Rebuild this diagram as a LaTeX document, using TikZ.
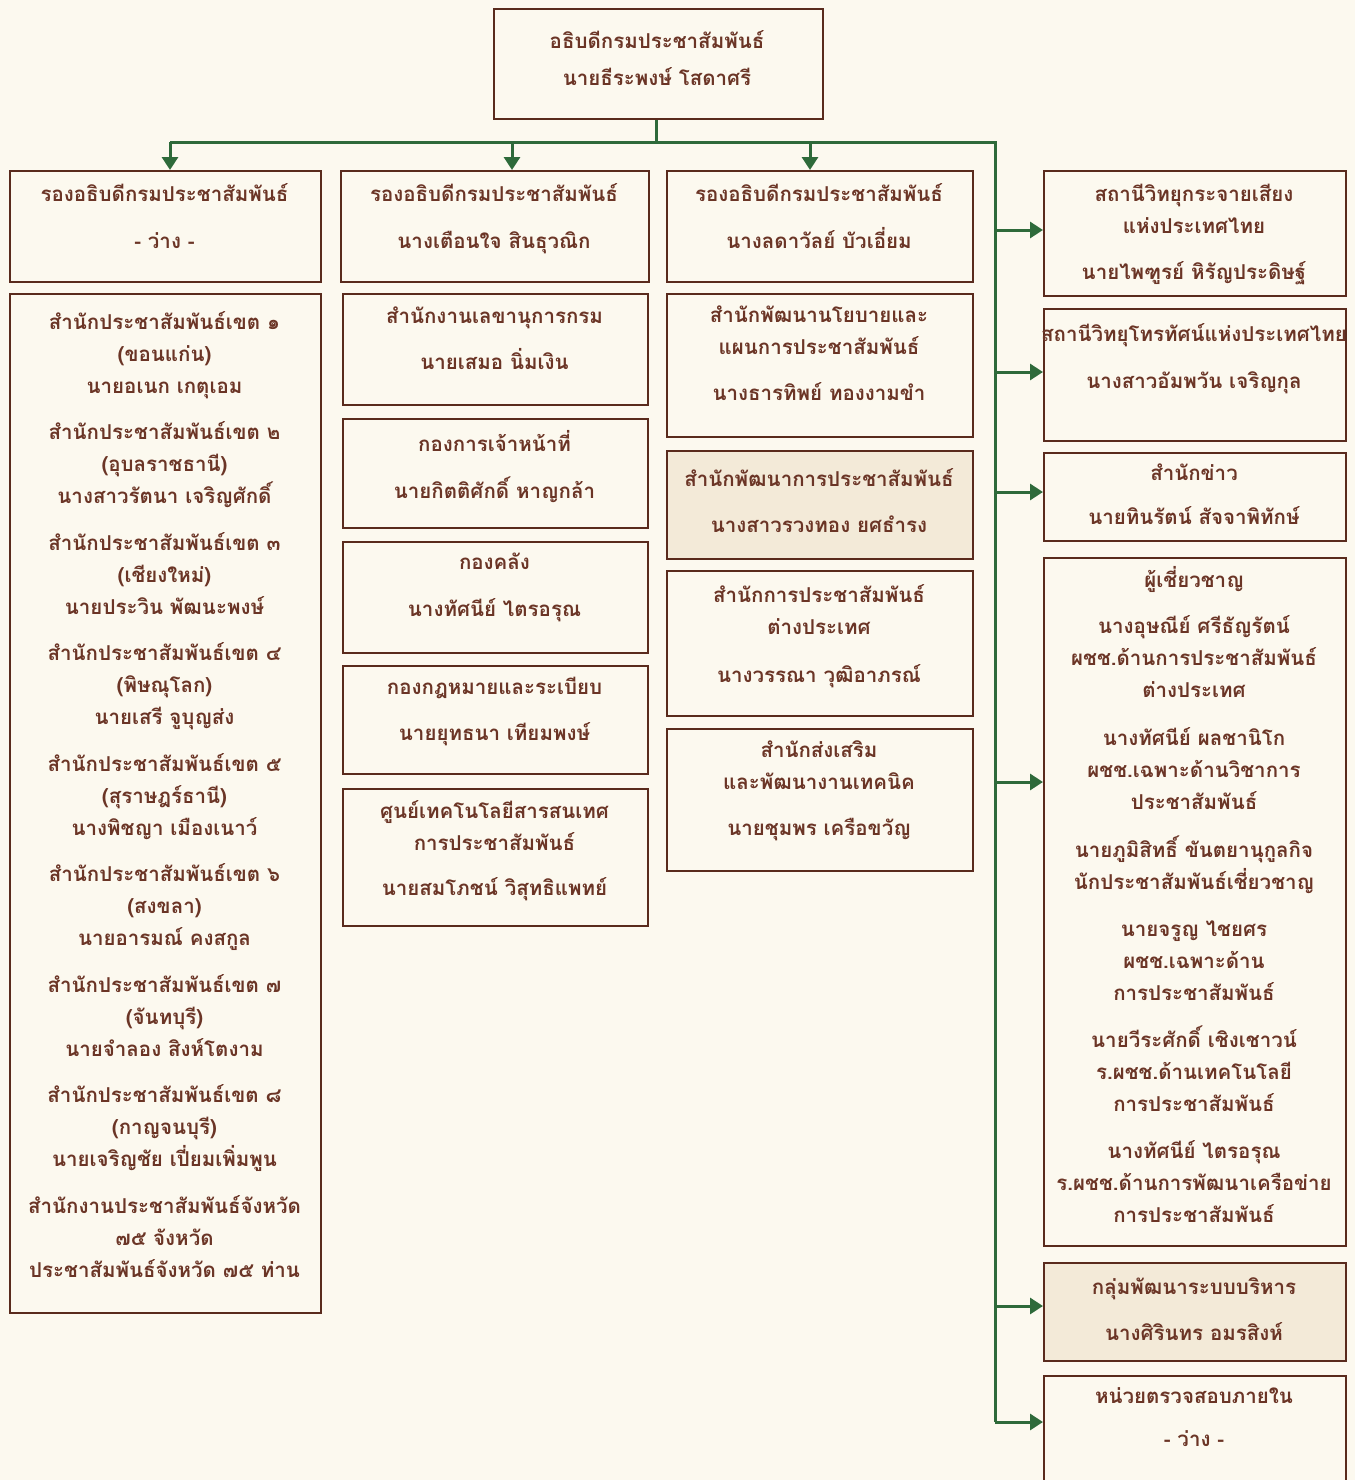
\documentclass[tikz,border=0pt]{standalone}
\usepackage{fontspec}
\newfontfamily\thaifont[Script=Thai]{Loma}
\usetikzlibrary{arrows.meta}
\definecolor{bg}{HTML}{FCF9EF}
\definecolor{brd}{HTML}{5A2B1D}
\definecolor{txtc}{HTML}{6B3526}
\definecolor{grn}{HTML}{2E6A3A}
\definecolor{hl}{HTML}{F3EAD8}
\tikzset{
  bx/.style={draw=brd, line width=2.2pt, rectangle, inner sep=0pt, anchor=north west, fill=bg},
  tx/.style={anchor=north, inner sep=0pt, align=center, text=txtc,
     font=\thaifont\bfseries\fontsize{20.5}{32}\selectfont, execute at begin node=\strut},
  conn/.style={draw=grn, line width=3pt},
  arr/.style={conn, -{Triangle[length=13pt,width=16pt]}},
}
\begin{document}
\begin{tikzpicture}[x=1pt,y=-1pt]
\clip (0,0) rectangle (1355,1480);
\fill[bg] (0,0) rectangle (1355,1480);

% boxes
\node[bx, minimum width=329pt, minimum height=110pt] (T) at (493,8) {};
\node[bx, minimum width=311pt, minimum height=111pt] (A) at (9,170) {};
\node[bx, minimum width=308pt, minimum height=111pt] (B) at (340,170) {};
\node[bx, minimum width=306pt, minimum height=111pt] (C) at (666,170) {};
\node[bx, minimum width=311pt, minimum height=1019pt] (L) at (9,293) {};
\node[bx, minimum width=305pt, minimum height=111pt] (M1) at (342,293) {};
\node[bx, minimum width=305pt, minimum height=109pt] (M2) at (342,418) {};
\node[bx, minimum width=305pt, minimum height=111pt] (M3) at (342,541) {};
\node[bx, minimum width=305pt, minimum height=108pt] (M4) at (342,665) {};
\node[bx, minimum width=305pt, minimum height=137pt] (M5) at (342,788) {};
\node[bx, minimum width=306pt, minimum height=143pt] (C1) at (666,293) {};
\node[bx, minimum width=306pt, minimum height=108pt, fill=hl] (C2) at (666,450) {};
\node[bx, minimum width=306pt, minimum height=145pt] (C3) at (666,570) {};
\node[bx, minimum width=306pt, minimum height=142pt] (C4) at (666,728) {};
\node[bx, minimum width=302pt, minimum height=125pt] (R1) at (1043,170) {};
\node[bx, minimum width=302pt, minimum height=132pt] (R2) at (1043,308) {};
\node[bx, minimum width=302pt, minimum height=88pt] (R3) at (1043,452) {};
\node[bx, minimum width=302pt, minimum height=688pt] (R4) at (1043,557) {};
\node[bx, minimum width=302pt, minimum height=98pt, fill=hl] (R5) at (1043,1262) {};
\node[bx, minimum width=302pt, minimum height=120pt] (R6) at (1043,1375) {};

% texts
\node[tx] (tT) at (657,{40-10}) {อธิบดีกรมประชาสัมพันธ์\\[5pt]นายธีระพงษ์ โสดาศรี};
\node[tx] (tA) at (164.5,{193-10}) {รองอธิบดีกรมประชาสัมพันธ์\\[15pt]- ว่าง -};
\node[tx] (tB) at (494,{193-10}) {รองอธิบดีกรมประชาสัมพันธ์\\[15pt]นางเตือนใจ สินธุวณิก};
\node[tx] (tC) at (819,{193-10}) {รองอธิบดีกรมประชาสัมพันธ์\\[15pt]นางลดาวัลย์ บัวเอี่ยม};
\node[tx] (tL) at (164.5,{322-11}) {สำนักประชาสัมพันธ์เขต ๑\\(ขอนแก่น)\\นายอเนก เกตุเอม\\[14.5pt]%
สำนักประชาสัมพันธ์เขต ๒\\(อุบลราชธานี)\\นางสาวรัตนา เจริญศักดิ์\\[14.5pt]%
สำนักประชาสัมพันธ์เขต ๓\\(เชียงใหม่)\\นายประวิน พัฒนะพงษ์\\[14.5pt]%
สำนักประชาสัมพันธ์เขต ๔\\(พิษณุโลก)\\นายเสรี จูบุญส่ง\\[14.5pt]%
สำนักประชาสัมพันธ์เขต ๕\\(สุราษฎร์ธานี)\\นางพิชญา เมืองเนาว์\\[14.5pt]%
สำนักประชาสัมพันธ์เขต ๖\\(สงขลา)\\นายอารมณ์ คงสกูล\\[14.5pt]%
สำนักประชาสัมพันธ์เขต ๗\\(จันทบุรี)\\นายจำลอง สิงห์โตงาม\\[14.5pt]%
สำนักประชาสัมพันธ์เขต ๘\\(กาญจนบุรี)\\นายเจริญชัย เปี่ยมเพิ่มพูน\\[14.5pt]%
สำนักงานประชาสัมพันธ์จังหวัด\\๗๕ จังหวัด\\ประชาสัมพันธ์จังหวัด ๗๕ ท่าน};
\node[tx] (tM1) at (494.5,{317-10}) {สำนักงานเลขานุการกรม\\[14pt]นายเสมอ นิ่มเงิน};
\node[tx] (tM2) at (494.5,{440-10}) {กองการเจ้าหน้าที่\\[15pt]นายกิตติศักดิ์ หาญกล้า};
\node[tx] (tM3) at (494.5,{563-10}) {กองคลัง\\[15pt]นางทัศนีย์ ไตรอรุณ};
\node[tx] (tM4) at (494.5,{687-10}) {กองกฎหมายและระเบียบ\\[14pt]นายยุทธนา เทียมพงษ์};
\node[tx] (tM5) at (494.5,{810-10}) {ศูนย์เทคโนโลยีสารสนเทศ\\การประชาสัมพันธ์\\[13pt]นายสมโภชน์ วิสุทธิแพทย์};
\node[tx] (tC1) at (819,{316-10}) {สำนักพัฒนานโยบายและ\\แผนการประชาสัมพันธ์\\[14pt]นางธารทิพย์ ทองงามขำ};
\node[tx] (tC2) at (819,{478-10}) {สำนักพัฒนาการประชาสัมพันธ์\\[14pt]นางสาวรวงทอง ยศธำรง};
\node[tx] (tC3) at (819,{594-10}) {สำนักการประชาสัมพันธ์\\ต่างประเทศ\\[16pt]นางวรรณา วุฒิอาภรณ์};
\node[tx] (tC4) at (819,{750-10}) {สำนักส่งเสริม\\และพัฒนางานเทคนิค\\[14pt]นายชุมพร เครือขวัญ};
\node[tx] (tR1) at (1194,{192-8}) {สถานีวิทยุกระจายเสียง\\แห่งประเทศไทย\\[14pt]นายไพฑูรย์ หิรัญประดิษฐ์};
\node[tx] (tR2) at (1194,{333-10}) {สถานีวิทยุโทรทัศน์แห่งประเทศไทย\\[15pt]นางสาวอัมพวัน เจริญกุล};
\node[tx] (tR3) at (1194,{474-10}) {สำนักข่าว\\[12pt]นายทินรัตน์ สัจจาพิทักษ์};
\node[tx] (tR4) at (1194,{580-14}) {ผู้เชี่ยวชาญ\\[14pt]%
นางอุษณีย์ ศรีธัญรัตน์\\ผชช.ด้านการประชาสัมพันธ์\\ต่างประเทศ\\[16pt]%
นางทัศนีย์ ผลชานิโก\\ผชช.เฉพาะด้านวิชาการ\\ประชาสัมพันธ์\\[16pt]%
นายภูมิสิทธิ์ ขันตยานุกูลกิจ\\นักประชาสัมพันธ์เชี่ยวชาญ\\[15pt]%
นายจรูญ ไชยศร\\ผชช.เฉพาะด้าน\\การประชาสัมพันธ์\\[15pt]%
นายวีระศักดิ์ เชิงเชาวน์\\ร.ผชช.ด้านเทคโนโลยี\\การประชาสัมพันธ์\\[15pt]%
นางทัศนีย์ ไตรอรุณ\\ร.ผชช.ด้านการพัฒนาเครือข่าย\\การประชาสัมพันธ์};
\node[tx] (tR5) at (1194,{1287-10}) {กลุ่มพัฒนาระบบบริหาร\\[14pt]นางศิรินทร อมรสิงห์};
\node[tx] (tR6) at (1194,{1397-10}) {หน่วยตรวจสอบภายใน\\[11pt]- ว่าง -};

% connectors
\coordinate (j0) at (656,142);
\coordinate (hA) at (170,142);
\coordinate (hB) at (512,142);
\coordinate (hC) at (810,142);
\coordinate (tr) at (995,142);
\coordinate (trEnd) at (995,1422);
\draw[conn] (T.south -| j0) -- (j0);
\draw[conn] (hA) -- (tr) -- (trEnd);
\draw[arr] (hA) -- (hA |- A.north);
\draw[arr] (hB) -- (hB |- B.north);
\draw[arr] (hC) -- (hC |- C.north);
\coordinate (k1) at (995,230);
\coordinate (k2) at (995,372);
\coordinate (k3) at (995,492);
\coordinate (k4) at (995,782);
\coordinate (k5) at (995,1306);
\draw[arr] (k1) -- (k1 -| R1.west);
\draw[arr] (k2) -- (k2 -| R2.west);
\draw[arr] (k3) -- (k3 -| R3.west);
\draw[arr] (k4) -- (k4 -| R4.west);
\draw[arr] (k5) -- (k5 -| R5.west);
\draw[arr] (trEnd) -- (trEnd -| R6.west);
\end{tikzpicture}
\end{document}
